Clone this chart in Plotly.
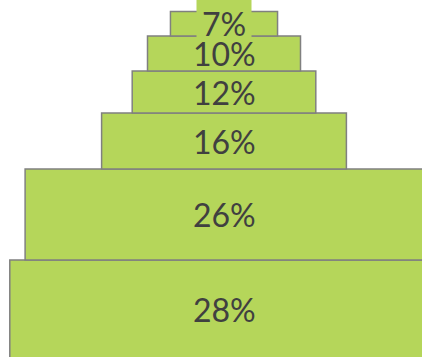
import plotly.graph_objects as go

# Pyramid tiers, bottom to top
labels = ["28%", "26%", "16%", "12%", "10%", "7%"]
values = [28, 26, 16, 12, 10, 7]

FILL = "#b5d65a"
EDGE = "#808080"
TEXT = "#404040"

bases = []
acc = 0
for v in values:
    bases.append(acc)
    acc += v

fig = go.Figure()
fig.add_trace(go.Bar(
    x=[0] * len(values),
    y=values,
    base=bases,
    width=values,
    marker=dict(color=FILL, line=dict(color=EDGE, width=1.5)),
    hoverinfo="skip",
    showlegend=False,
))

# filled tab behind the apex label
fig.add_annotation(
    x=0, y=bases[-1] + values[-1] / 2, text=" ", showarrow=False,
    bgcolor=FILL, borderpad=0, width=54, height=40, yshift=7,
    xanchor="center", yanchor="middle",
)

for lab, v, b in zip(labels, values, bases):
    fig.add_annotation(
        x=0, y=b + v / 2, text=lab, showarrow=False,
        font=dict(family="Lato", size=32, color=TEXT),
        xanchor="center", yanchor="middle",
    )

fig.update_layout(
    width=422, height=357,
    margin=dict(l=0, r=0, t=0, b=0),
    paper_bgcolor="white", plot_bgcolor="white",
    barmode="overlay",
    xaxis=dict(range=[-224 / 15.3, 198 / 15.3], visible=False, fixedrange=True),
    yaxis=dict(range=[1 / 3.5, 1 / 3.5 + 357 / 3.5], visible=False, fixedrange=True),
)

fig.write_html("out.html")
